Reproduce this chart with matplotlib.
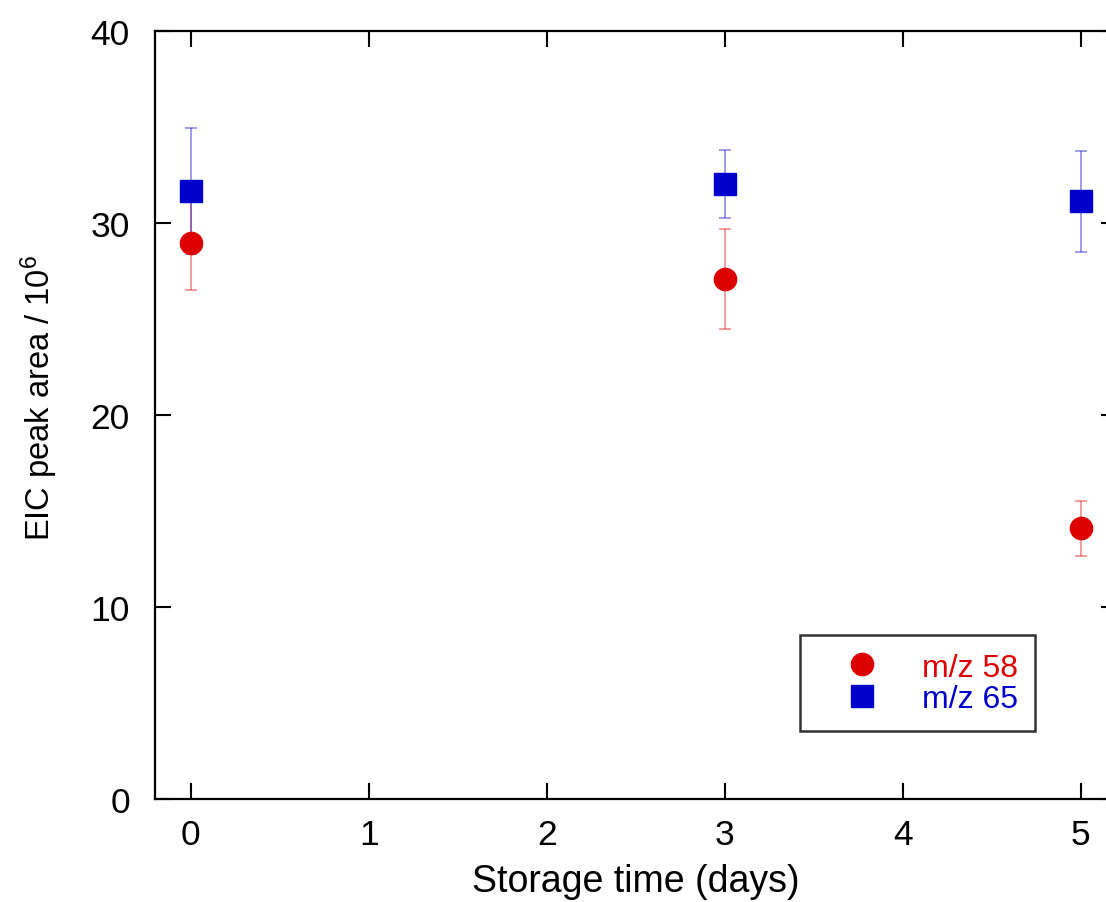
import matplotlib
matplotlib.use('Agg')
import matplotlib.pyplot as plt

plt.rcParams['font.family'] = ['Liberation Sans', 'DejaVu Sans']
plt.rcParams['mathtext.fontset'] = 'custom'
plt.rcParams['mathtext.rm'] = 'Liberation Sans'
plt.rcParams['mathtext.it'] = 'Liberation Sans:italic'

# storage time (days) and EIC peak areas (x 10^6)
days = [0, 3, 5]
mz58 = [28.95, 27.08, 14.11]
mz58_err = [2.43, 2.6, 1.43]
mz65 = [31.67, 32.03, 31.12]
mz65_err = [3.28, 1.77, 2.65]

red = '#dd0000'
blue = '#0000cc'

fig = plt.figure(figsize=(11.06, 9.03), dpi=100)
# right spine sits just past the figure edge
ax = fig.add_axes([0.1401, 0.1141, 0.8694, 0.8505])

# error bars first so the markers sit on top of them
ax.errorbar(days, mz58, yerr=mz58_err, fmt='none', ecolor=red, alpha=0.45,
            elinewidth=1.2, capsize=4.3, capthick=1.2, zorder=1)
ax.errorbar(days, mz65, yerr=mz65_err, fmt='none', ecolor=blue, alpha=0.45,
            elinewidth=1.2, capsize=4.3, capthick=1.2, zorder=1)
ax.plot(days, mz58, 'o', color=red, ms=16, mec=red, label='m/z 58', zorder=3)
ax.plot(days, mz65, 's', color=blue, ms=15.5, mec=blue, label='m/z 65', zorder=3)

ax.set_xlim(-0.2, 5.2)
ax.set_ylim(0, 40)
ax.set_xticks(range(6))
ax.set_yticks(range(0, 41, 10))
ax.tick_params(direction='in', length=11.5, width=1.5, labelsize=25.5,
               top=True, right=True)
ax.tick_params(axis='x', pad=14)
ax.tick_params(axis='y', pad=18)
for s in ax.spines.values():
    s.set_linewidth(1.6)

ax.set_xlabel('Storage time (days)', fontsize=27, labelpad=8)
ax.set_ylabel('EIC peak area / 10$^{6}$', fontsize=23.5)
ax.yaxis.set_label_coords(-0.099, 0.524)

leg = ax.legend(loc='upper left', bbox_to_anchor=(0.6707, 0.2135), fontsize=23,
                frameon=True, fancybox=False, edgecolor='black',
                handlelength=2.8, handletextpad=0.47, labelspacing=0.04,
                borderpad=0.55, borderaxespad=0)
leg.get_frame().set_linewidth(1.8)
for t, c in zip(leg.get_texts(), [red, blue]):
    t.set_color(c)

fig.savefig('out.png', dpi=100)
